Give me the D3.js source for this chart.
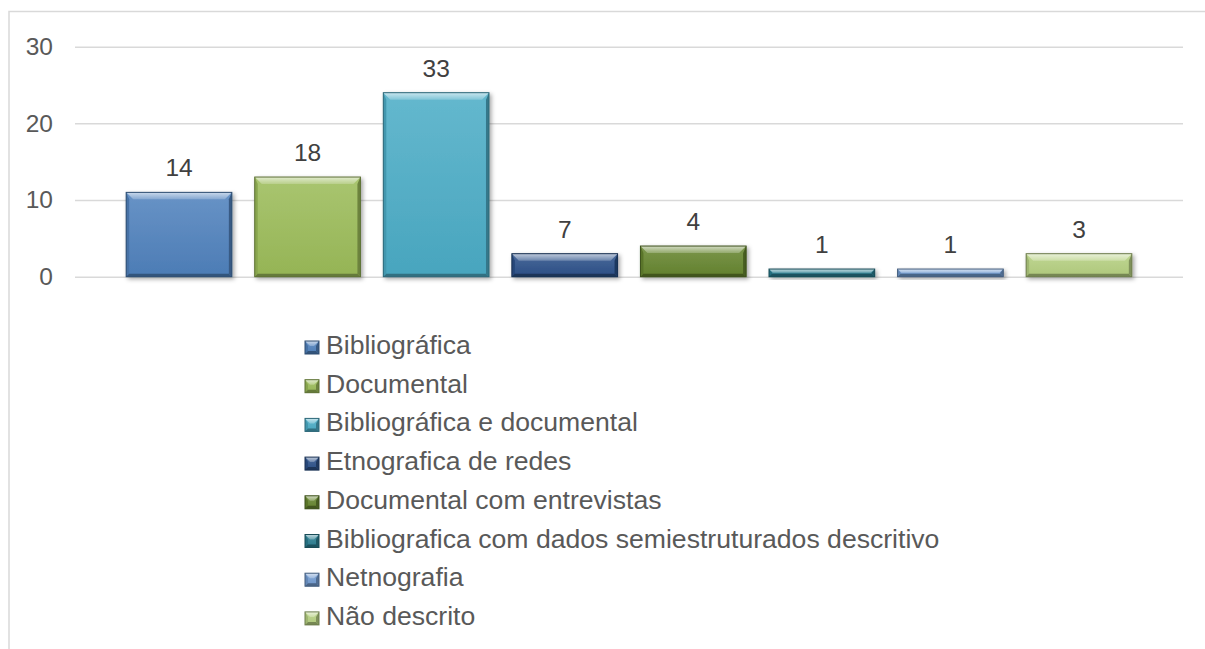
<!DOCTYPE html>
<html>
<head>
<meta charset="utf-8">
<script src="https://cdn.jsdelivr.net/npm/d3@7"></script>
<style>
    body { margin: 0; background: #fff; }
    text { font-family: "Liberation Sans", Arial, sans-serif; }
</style>
</head>
<body>
<div id="chart"></div>
<script>
let categories = ["Bibliográfica", "Documental", "Bibliográfica e documental", "Etnografica de redes",
    "Documental com entrevistas", "Bibliografica com dados semiestruturados descritivo", "Netnografia", "Não descrito"];
let barValues = [11, 13, 24, 3, 4, 1, 1, 3];
let labelValues = ["14", "18", "33", "7", "4", "1", "1", "3"];
let yTicks = [0, 10, 20, 30];
let palette = ["#4f81bd", "#9bbb59", "#4bacc6", "#2c5189", "#66852f", "#2a7d90", "#729bd0", "#b5cf80"];

let width = 1205,
    height = 649;

let svg = d3.select("#chart").append("svg")
    .attr("width", width)
    .attr("height", height);

let defs = svg.append("defs");

let shadow = defs.append("filter")
    .attr("id", "shadow")
    .attr("x", "-10%").attr("y", "-20%")
    .attr("width", "130%").attr("height", "160%");
shadow.append("feDropShadow")
    .attr("dx", 2).attr("dy", 2)
    .attr("stdDeviation", 2)
    .attr("flood-color", "#000")
    .attr("flood-opacity", 0.35);

palette.forEach(function(c, i) {
    let face = defs.append("linearGradient")
        .attr("id", "face" + i)
        .attr("x1", 0).attr("y1", 0).attr("x2", 0).attr("y2", 1);
    face.append("stop").attr("offset", "0%").attr("stop-color", d3.interpolateRgb(c, "#fff")(0.14));
    face.append("stop").attr("offset", "100%").attr("stop-color", d3.interpolateRgb(c, "#000")(0.04));

    let top = defs.append("linearGradient")
        .attr("id", "top" + i)
        .attr("x1", 0).attr("y1", 0).attr("x2", 0).attr("y2", 1);
    top.append("stop").attr("offset", "0%").attr("stop-color", d3.interpolateRgb(c, "#fff")(0.7));
    top.append("stop").attr("offset", "100%").attr("stop-color", d3.interpolateRgb(c, "#fff")(0.3));
});

// outer chart frame (right and bottom edges fall outside the picture)
svg.append("path")
    .attr("d", "M9,649V11.5H1205")
    .attr("fill", "none")
    .attr("stroke", "#d9d9d9")
    .attr("stroke-width", 1.5);

let x = d3.scaleBand()
    .domain(categories)
    .range([75, 1183])
    .paddingInner(0.178)
    .paddingOuter(0.398);

let y = d3.scaleLinear()
    .domain([0, 30])
    .range([276.7, 46.7]);

let yAxis = d3.axisLeft(y)
    .tickValues(yTicks)
    .tickSize(-(1183 - 75))
    .tickPadding(22);

let gAxis = svg.append("g")
    .attr("transform", "translate(75,0)")
    .call(yAxis);
gAxis.select(".domain").remove();
gAxis.selectAll(".tick line")
    .attr("stroke", "#d9d9d9")
    .attr("stroke-width", 1.5);
gAxis.selectAll(".tick text")
    .attr("fill", "#595959")
    .style("font-size", "24.5px")
    .style("font-family", "'Liberation Sans', Arial, sans-serif");

// bevelled box, Office style
function bevel(g, bx, by, bw, bh, i, bt, s) {
    let b = Math.min(bt, bh / 2),
        c = palette[i];
    s = Math.min(s, bh / 2);
    g.append("rect")
        .attr("x", bx).attr("y", by)
        .attr("width", bw).attr("height", bh)
        .attr("fill", "url(#face" + i + ")");
    // left edge
    g.append("path")
        .attr("d", "M" + bx + "," + by + "L" + (bx + s) + "," + (by + b) + "L" + (bx + s) + "," + (by + bh - s) + "L" + bx + "," + (by + bh) + "Z")
        .attr("fill", d3.interpolateRgb(c, "#000")(0.12));
    // right edge
    g.append("path")
        .attr("d", "M" + (bx + bw) + "," + by + "L" + (bx + bw - s) + "," + (by + b) + "L" + (bx + bw - s) + "," + (by + bh - s) + "L" + (bx + bw) + "," + (by + bh) + "Z")
        .attr("fill", d3.interpolateRgb(c, "#000")(0.3));
    // bottom edge
    g.append("path")
        .attr("d", "M" + bx + "," + (by + bh) + "L" + (bx + s) + "," + (by + bh - s) + "L" + (bx + bw - s) + "," + (by + bh - s) + "L" + (bx + bw) + "," + (by + bh) + "Z")
        .attr("fill", d3.interpolateRgb(c, "#000")(0.35));
    // top highlight
    g.append("path")
        .attr("d", "M" + bx + "," + by + "L" + (bx + bw) + "," + by + "L" + (bx + bw - b) + "," + (by + b) + "L" + (bx + b) + "," + (by + b) + "Z")
        .attr("fill", "url(#top" + i + ")");
    g.append("rect")
        .attr("x", bx).attr("y", by)
        .attr("width", bw).attr("height", bh)
        .attr("fill", "none")
        .attr("stroke", d3.interpolateRgb(c, "#000")(0.4))
        .attr("stroke-width", 1);
}

svg.selectAll(".bar")
    .data(categories)
    .enter().append("g")
    .attr("class", "bar")
    .attr("filter", "url(#shadow)")
    .each(function(d, i) {
        bevel(d3.select(this), x(d), y(barValues[i]), x.bandwidth(), y(0) - y(barValues[i]), i, 7, 3);
    });

svg.selectAll(".label")
    .data(categories)
    .enter().append("text")
    .attr("class", "label")
    .attr("x", function(d) { return x(d) + x.bandwidth() / 2; })
    .attr("y", function(d, i) { return y(barValues[i]) - 16; })
    .attr("text-anchor", "middle")
    .attr("fill", "#404040")
    .style("font-size", "24.5px")
    .text(function(d, i) { return labelValues[i]; });

let legend = svg.selectAll(".legend")
    .data(categories)
    .enter().append("g")
    .attr("class", "legend")
    .attr("transform", function(d, i) { return "translate(305," + (354 + i * 38.7) + ")"; });

legend.each(function(d, i) {
    bevel(d3.select(this), 0, -13, 14, 13, i, 5, 3);
});

legend.append("text")
    .attr("x", 21)
    .attr("y", 0)
    .attr("fill", "#595959")
    .style("font-size", "26.6px")
    .text(function(d) { return d; });
</script>
</body>
</html>
